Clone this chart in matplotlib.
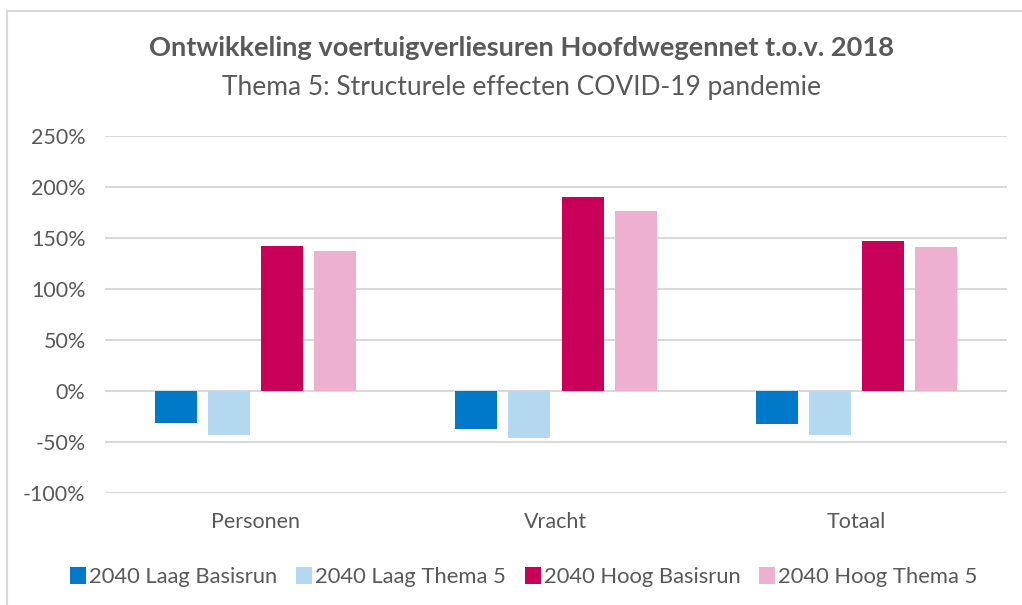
import matplotlib
matplotlib.use("Agg")
import matplotlib.pyplot as plt
import numpy as np
from matplotlib.patches import Patch
from matplotlib.lines import Line2D

categories = ["Personen", "Vracht", "Totaal"]
series_names = ["2040 Laag Basisrun", "2040 Laag Thema 5", "2040 Hoog Basisrun", "2040 Hoog Thema 5"]
laag_basis = [-31, -37, -32]
laag_thema = [-43, -46, -43]
hoog_basis = [142, 190, 147]
hoog_thema = [137, 176, 141]
colors = ["#0079C8", "#B4D8EF", "#C8005A", "#EDB1CF"]
yticks = [-100, -50, 0, 50, 100, 150, 200, 250]
title = "Ontwikkeling voertuigverliesuren Hoofdwegennet t.o.v. 2018"
subtitle = "Thema 5: Structurele effecten COVID-19 pandemie"

plt.rcParams['font.family'] = ['Lato', 'DejaVu Sans']
W, H = 1022, 605
fig = plt.figure(figsize=(W/100, H/100), dpi=100)

# outer border (left and top visible)
fig.add_artist(Line2D([7/W, 7/W], [0, 1 - 11/H], color="#D9D9D9", lw=1.5))
fig.add_artist(Line2D([7/W, 1], [1 - 11/H, 1 - 11/H], color="#D9D9D9", lw=1.5))

left, right, top, bottom = 105, 1007, 136, 493
ax = fig.add_axes([left/W, 1 - bottom/H, (right-left)/W, (bottom-top)/H])

data = [laag_basis, laag_thema, hoog_basis, hoog_thema]
x = np.arange(len(categories))
slot = 53/300
width = 42/300
for i, (vals, c) in enumerate(zip(data, colors)):
    ax.bar(x + (i - 1.5)*slot, vals, width=width, color=c, zorder=3, label=series_names[i])

ax.set_xlim(-0.5, 2.5)
ax.set_ylim(-100, 250)
ax.set_yticks(yticks)
ax.set_yticklabels([f"{v}%" for v in yticks])
ax.yaxis.grid(True, color="#D9D9D9", lw=1.5, zorder=0)
ax.set_xticks(x)
ax.set_xticklabels(categories)
for s in ax.spines.values():
    s.set_visible(False)
ax.tick_params(axis='both', length=0, labelsize=15.5, colors="#595959")
ax.tick_params(axis='x', pad=14)
ax.tick_params(axis='y', pad=14)

fig.text(521/W, 1 - 48/H, title, ha='center', va='center', fontsize=19.6, fontweight='bold', color="#595959")
fig.text(521/W, 1 - 87/H, subtitle, ha='center', va='center', fontsize=19, color="#595959")

handles = [Patch(facecolor=c, edgecolor='none') for c in colors]
fig.legend(handles, series_names, loc='center', bbox_to_anchor=(524/W, 1 - 577/H), ncol=4,
           frameon=False, fontsize=15.8, labelcolor="#595959", handlelength=0.72, handleheight=0.8,
           handletextpad=0.15, columnspacing=0.85)

fig.savefig("out.png", dpi=100)
